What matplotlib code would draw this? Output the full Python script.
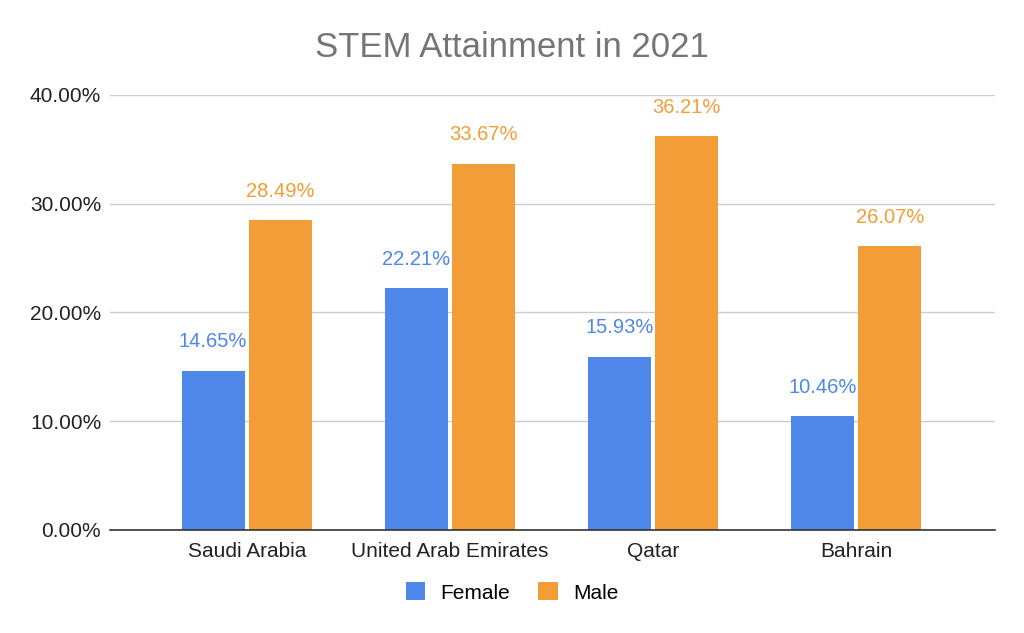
import matplotlib
matplotlib.use("Agg")
import matplotlib.pyplot as plt
import numpy as np

categories = ["Saudi Arabia", "United Arab Emirates", "Qatar", "Bahrain"]
female = [14.65, 22.21, 15.93, 10.46]
male = [28.49, 33.67, 36.21, 26.07]
yticks = [0, 10, 20, 30, 40]

plt.rcParams['font.family'] = ['Liberation Sans', 'DejaVu Sans']

c_f = '#4f86ea'
c_m = '#f29d38'

fig = plt.figure(figsize=(10.24, 6.33), dpi=100)
ax = fig.add_axes([0.107, 0.163, 0.865, 0.687])

x = np.arange(len(categories))
w = 0.31
off = 0.165
bf = ax.bar(x - off, female, w, color=c_f, label='Female', zorder=3)
bm = ax.bar(x + off, male, w, color=c_m, label='Male', zorder=3)

for xi, v in zip(x, female):
    ax.annotate(f"{v:.2f}%", (xi - off, v), xytext=(0, 14), textcoords='offset points',
                ha='center', va='bottom', color=c_f, fontsize=14.5)
for xi, v in zip(x, male):
    ax.annotate(f"{v:.2f}%", (xi + off, v), xytext=(0, 14), textcoords='offset points',
                ha='center', va='bottom', color=c_m, fontsize=14.5)

ax.set_xlim(-0.675, 3.685)
ax.set_ylim(0, 40)
ax.set_yticks(yticks)
ax.set_yticklabels([f"{t:.2f}%" for t in yticks], fontsize=15, color='#222222')
ax.set_xticks(x)
ax.set_xticklabels(categories, fontsize=15, color='#222222')
ax.tick_params(axis='y', length=0, pad=6)
ax.tick_params(axis='x', length=0, pad=9)
ax.grid(axis='y', color='#cccccc', linewidth=1, zorder=0)
for s in ['top', 'right', 'left']:
    ax.spines[s].set_visible(False)
ax.spines['bottom'].set_color('#333333')
ax.spines['bottom'].set_linewidth(1.2)
ax.spines['bottom'].set_zorder(4)

fig.text(0.5, 0.925, "STEM Attainment in 2021", ha='center', va='center',
         fontsize=25, color='#757575')

fig.legend(handles=[bf, bm], labels=['Female', 'Male'], loc='center',
           bbox_to_anchor=(0.5, 0.064), ncol=2, frameon=False, fontsize=15,
           handlelength=0.95, handleheight=0.95, columnspacing=1.35, handletextpad=0.72)

fig.savefig("out.png", dpi=100)
